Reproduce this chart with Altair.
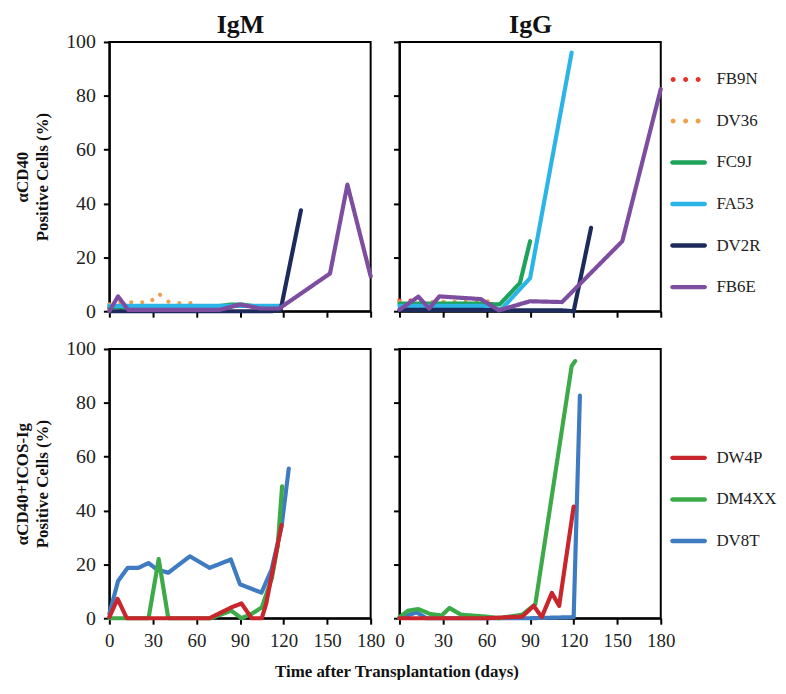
import altair as alt
import pandas as pd

FONT = "Liberation Serif"

# ---------------- series definitions ----------------
top_series = ["FB9N", "DV36", "FC9J", "FA53", "DV2R", "FB6E"]
top_colors = ["#E5332A", "#F0A04B", "#1EA35A", "#2BB5E6", "#1C2B5C", "#7D4E9F"]
top_dotted = [True, True, False, False, False, False]

bot_series = ["DW4P", "DM4XX", "DV8T"]
bot_colors = ["#C9252C", "#3DAA4A", "#3F7BC0"]
bot_dotted = [False, False, False]

# ---------------- IgM, aCD40 ----------------
igm_FB9N_days = [0, 7, 14, 21, 28, 35, 42, 49, 56, 62]
igm_FB9N_vals = [1, 1, 1, 1, 1, 1, 1, 1, 1, 1]
igm_DV36_days = [0, 7, 13, 20, 28, 34, 40, 47, 54, 62]
igm_DV36_vals = [2.5, 3.3, 3.3, 3.3, 3.3, 6.6, 3.6, 3.0, 3.0, 3.0]
igm_FC9J_days = [0, 14, 28, 42, 56, 70, 84, 91, 105, 117]
igm_FC9J_vals = [1.5, 1.5, 1.5, 1.5, 1.5, 1.5, 2.5, 2.5, 1.5, 1.0]
igm_FA53_days = [0, 14, 28, 42, 56, 70, 84, 98, 112, 118]
igm_FA53_vals = [2, 2, 2, 2, 2, 2, 2, 2, 2, 2]
igm_DV2R_days = [0, 14, 28, 42, 56, 70, 84, 98, 112, 118, 132]
igm_DV2R_vals = [0, 0, 0, 0, 0, 0, 0, 0, 0, 0.5, 37.5]
igm_FB6E_days = [0, 6, 13, 20, 34, 48, 62, 76, 90, 104, 117, 152, 164, 180]
igm_FB6E_vals = [0, 5.5, 0.5, 0.5, 0.5, 0.5, 0.5, 0.5, 2.5, 1, 1, 14, 47, 13]

# ---------------- IgG, aCD40 ----------------
igg_FB9N_days = [0, 7, 14, 21]
igg_FB9N_vals = [4, 4, 3.6, 3.6]
igg_DV36_days = [0, 7, 14, 21, 28, 35, 42, 49, 56, 63]
igg_DV36_vals = [3.5, 3.5, 3.5, 3.5, 3.5, 3.5, 3.5, 3.5, 3.5, 3.7]
igg_FC9J_days = [0, 14, 28, 42, 56, 69, 83, 90]
igg_FC9J_vals = [2.8, 2.8, 2.8, 2.8, 2.8, 2.5, 10.5, 26]
igg_FA53_days = [0, 14, 28, 42, 56, 70, 90, 118.6]
igg_FA53_vals = [2, 2, 2, 2, 2, 0.6, 12.3, 96]
igg_DV2R_days = [0, 14, 28, 42, 56, 70, 84, 98, 112, 120, 132]
igg_DV2R_vals = [0.5, 0.5, 0.5, 0.5, 0.5, 0.3, 0.3, 0.3, 0.3, 0, 31]
igg_FB6E_days = [0, 13, 20.5, 27.5, 56, 68.5, 90, 112, 153.5, 180]
igg_FB6E_vals = [0.5, 5.4, 1, 5.5, 4.5, 0.3, 3.7, 3.4, 26, 82.5]

# ---------------- IgM, aCD40+ICOS-Ig ----------------
igm2_DV8T_days = [0, 6, 12.6, 20, 27, 33, 40.6, 55.5, 69, 83.7, 90, 104.8, 111.7, 118.6, 123.6]
igm2_DV8T_vals = [1.6, 13.8, 18.7, 18.7, 20.5, 18, 16.9, 23, 18.7, 21.8, 12.6, 9.5, 18, 34, 55.6]
igm2_DM4XX_days = [0, 27, 34, 40.6, 70, 84, 91, 98, 105, 112, 116, 119]
igm2_DM4XX_vals = [0, 0, 22, 0, 0, 2.8, 0, 1.6, 4, 15, 27, 49]
igm2_DW4P_days = [0, 5.7, 12, 69, 84, 91, 98, 105, 108, 118.6]
igm2_DW4P_vals = [0.4, 7.2, 0, 0, 4, 5.5, 0, 0, 5.3, 34.6]

# ---------------- IgG, aCD40+ICOS-Ig ----------------
igg2_DV8T_days = [0, 11.8, 18.6, 60, 90, 120, 124.3]
igg2_DV8T_vals = [0, 2.2, 0, 0, 0, 0.4, 82.7]
igg2_DM4XX_days = [0, 6, 13, 21, 29, 34.5, 42.5, 59.5, 68.6, 84.5, 93.6, 118.6, 121]
igg2_DM4XX_vals = [0.4, 2.8, 3.4, 1.6, 1, 3.8, 1.3, 0.6, 0, 1.3, 5.2, 93.6, 95.5]
igg2_DW4P_days = [0, 30, 60, 84.5, 92.5, 98, 105, 110, 120]
igg2_DW4P_vals = [0, 0, 0, 0.6, 4.6, 0.4, 9.4, 4.6, 41.5]

x_ticks = [0, 30, 60, 90, 120, 150, 180]
y_ticks = [0, 20, 40, 60, 80, 100]

# legend glyphs (custom symbol paths in the unit square)
DOTS = ("M -0.975 0 A 0.135 0.135 0 1 0 -0.705 0 A 0.135 0.135 0 1 0 -0.975 0 Z "
        "M -0.295 0 A 0.135 0.135 0 1 0 -0.025 0 A 0.135 0.135 0 1 0 -0.295 0 Z "
        "M 0.385 0 A 0.135 0.135 0 1 0 0.655 0 A 0.135 0.135 0 1 0 0.385 0 Z")
BAR = ("M -0.88 -0.12 L 0.88 -0.12 A 0.12 0.12 0 0 1 0.88 0.12 "
       "L -0.88 0.12 A 0.12 0.12 0 0 1 -0.88 -0.12 Z")


def make_df(items):
    rows = []
    for name, days, vals in items:
        for d, v in zip(days, vals):
            rows.append({"series": name, "day": d, "value": v})
    return pd.DataFrame(rows)


df_tl = make_df([
    ("FB9N", igm_FB9N_days, igm_FB9N_vals), ("DV36", igm_DV36_days, igm_DV36_vals),
    ("FC9J", igm_FC9J_days, igm_FC9J_vals), ("FA53", igm_FA53_days, igm_FA53_vals),
    ("DV2R", igm_DV2R_days, igm_DV2R_vals), ("FB6E", igm_FB6E_days, igm_FB6E_vals)])
df_tr = make_df([
    ("FB9N", igg_FB9N_days, igg_FB9N_vals), ("DV36", igg_DV36_days, igg_DV36_vals),
    ("FC9J", igg_FC9J_days, igg_FC9J_vals), ("FA53", igg_FA53_days, igg_FA53_vals),
    ("DV2R", igg_DV2R_days, igg_DV2R_vals), ("FB6E", igg_FB6E_days, igg_FB6E_vals)])
df_bl = make_df([
    ("DV8T", igm2_DV8T_days, igm2_DV8T_vals), ("DM4XX", igm2_DM4XX_days, igm2_DM4XX_vals),
    ("DW4P", igm2_DW4P_days, igm2_DW4P_vals)])
df_br = make_df([
    ("DV8T", igg2_DV8T_days, igg2_DV8T_vals), ("DM4XX", igg2_DM4XX_days, igg2_DM4XX_vals),
    ("DW4P", igg2_DW4P_days, igg2_DW4P_vals)])

W, H = 263, 271


def panel(df, names, colors, dotted, x_labels, y_left, y_title=None, x_title=None,
          title=None):
    dashes = [[0.1, 11] if d else [1, 0] for d in dotted]
    if x_title:
        xax = alt.Axis(values=x_ticks, labels=x_labels, labelOverlap=False,
                       labelFlush=False, labelFontSize=19, labelPadding=7,
                       title=x_title, titleX=289, titleY=59, titleAlign="center",
                       titleBaseline="alphabetic", titleFont=FONT, titleFontSize=17,
                       titleFontWeight="bold", titleColor="#111")
    else:
        xax = alt.Axis(values=x_ticks, labels=x_labels, labelOverlap=False,
                       labelFlush=False, labelFontSize=19, labelPadding=7, title=None)
    if y_left:
        yax = alt.Axis(values=y_ticks, title=y_title, titleFont=FONT, titleFontSize=17,
                       titleFontWeight="bold", titleColor="#111", titleLineHeight=20,
                       titlePadding=14, labelPadding=8, labelOverlap=False,
                       labelFlush=False)
    else:
        yax = alt.Axis(values=y_ticks, labels=False, title=None)
    xs = alt.Scale(domain=[0, 180], nice=False)
    y = alt.Y("value:Q", scale=alt.Scale(domain=[0, 100], nice=False), axis=yax)
    lines = alt.Chart(df).mark_line(strokeWidth=4.2, strokeCap="round",
                                    strokeJoin="round").encode(
        x=alt.X("day:Q", scale=xs, axis=xax), y=y,
        stroke=alt.Stroke("series:N", scale=alt.Scale(domain=names, range=colors),
                          legend=None),
        strokeDash=alt.StrokeDash("series:N", scale=alt.Scale(domain=names, range=dashes),
                                  legend=None),
    )
    if title is None:
        return lines.properties(width=W, height=H)
    head = alt.Chart(df).mark_line(opacity=0).encode(
        x=alt.X("day:Q", scale=xs,
                axis=alt.Axis(orient="top", title=title, ticks=False, labels=False,
                              domain=False, titleFont=FONT, titleFontSize=26,
                              titleFontWeight="bold", titleColor="#111",
                              titlePadding=10, titleBaseline="alphabetic")),
        y=y,
    )
    return alt.layer(lines, head).resolve_axis(x="independent").properties(
        width=W, height=H)


def legend_panel(names, colors, dotted, lo, hi):
    shapes = [DOTS if d else BAR for d in dotted]
    ldf = pd.DataFrame({"series": names, "idx": list(range(len(names)))})
    yy = alt.Y("idx:Q", axis=None,
               scale=alt.Scale(domain=[lo, hi], reverse=True, nice=False, zero=False))
    sym = alt.Chart(ldf).mark_point(filled=True, size=1369, opacity=1,
                                    strokeWidth=0).encode(
        x=alt.value(-1), y=yy,
        fill=alt.Fill("series:N", scale=alt.Scale(domain=names, range=colors), legend=None),
        shape=alt.Shape("series:N", scale=alt.Scale(domain=names, range=shapes),
                        legend=None),
    )
    txt = alt.Chart(ldf).mark_text(align="left", baseline="middle", font=FONT,
                                   fontSize=17, color="#222").encode(
        x=alt.value(27), y=yy, text="series:N")
    return alt.layer(sym, txt).properties(
        width=80, height=H, view=alt.ViewBackground(stroke="transparent"))


tl = panel(df_tl, top_series, top_colors, top_dotted, False, True,
           y_title=["\u03b1CD40", "Positive Cells (%)"], title="IgM")
tr = panel(df_tr, top_series, top_colors, top_dotted, False, False, title="IgG")
lt = legend_panel(top_series, top_colors, top_dotted, -0.902, 5.581)
bl = panel(df_bl, bot_series, bot_colors, bot_dotted, True, True,
           y_title=["\u03b1CD40+ICOS-Ig", "Positive Cells (%)"],
           x_title="Time after Transplantation (days)")
br = panel(df_br, bot_series, bot_colors, bot_dotted, True, False)
lb = legend_panel(bot_series, bot_colors, bot_dotted, -2.619, 3.857)

ind = dict(stroke="independent", strokeDash="independent", fill="independent",
           shape="independent", y="independent")

chart = alt.concat(tl, tr, lt, bl, br, lb, columns=3, spacing={"row": 38, "column": 29},
                   bounds="flush").resolve_scale(**ind).properties(
    padding={"left": 5, "top": 0, "right": 0, "bottom": -3}
).configure_axis(
    domainColor="black", domainWidth=2, tickColor="black", tickWidth=2, tickSize=6,
    labelFont=FONT, labelFontSize=20, labelColor="#222", labelPadding=6, grid=False
).configure_view(stroke="black", strokeWidth=2)

chart.save("out.html", embed_options={"renderer": "svg", "actions": False})
